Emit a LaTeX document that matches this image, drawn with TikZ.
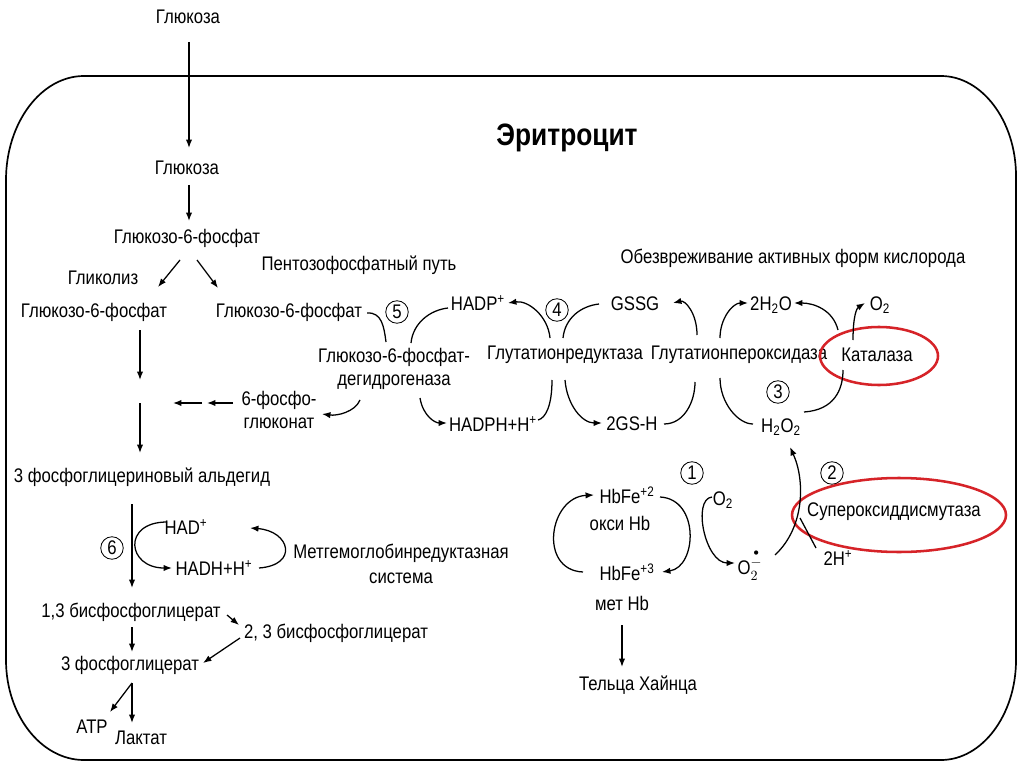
\documentclass[tikz,border=0pt]{standalone}
\usepackage{amsmath}
\usepackage{fontspec}
\setmainfont{Liberation Sans}[FakeStretch=0.85]
\usetikzlibrary{arrows.meta}
\definecolor{ringred}{RGB}{214,35,40}

\begin{document}
\begin{tikzpicture}[x=0.025cm, y=-0.025cm, >={Latex[length=6pt,width=4.5pt]},
	every node/.style={font=\fontsize{14}{16}\selectfont, inner sep=1pt},
	num/.style={draw, circle, inner sep=0pt, minimum size=16pt, semithick},
	two/.style={align=center},
	link/.style={line width=0.9pt},
	ring/.style={draw=ringred, line width=1.8pt}]

	\useasboundingbox (0,0) rectangle (1024,767);
	\fill[white] (0,0) rectangle (1024,767);

	\draw[line width=1.2pt] (84,76) -- (941,76)
		.. controls +(41,0) and +(0,-55) .. (1016,176) -- (1016,660)
		.. controls +(0,55) and +(41,0) .. (941,760) -- (84,760)
		.. controls +(-43,0) and +(0,55) .. (6,660) -- (6,180)
		.. controls +(0,-57) and +(-43,0) .. (84,76) -- cycle;

	\node (title) at (567,138) {\bfseries\fontsize{22}{26}\selectfont Эритроцит};

	\node (glcout) at (188,17) {Глюкоза};
	\node (glcin) at (187,168) {Глюкоза};
	\node (g6p) at (187,238) {Глюкозо-6-фосфат};
	\node (glyc) at (103,278) {Гликолиз};
	\node (ppp) at (359,265) {Пентозофосфатный путь};
	\node (g6pl) at (94,312) {Глюкозо-6-фосфат};
	\node (g6pr) at (289,312) {Глюкозо-6-фосфат};
	\node[two] (g6pd) at (394,369) {Глюкозо-6-фосфат-\\дегидрогеназа};
	\node[two] (pglu) at (279,410) {6-фосфо-\\глюконат};
	\node (gap) at (142,477) {3 фосфоглицериновый альдегид};

	\node (hadp) at (478,303) {HADP\textsuperscript{+}};
	\node (gssg) at (635,304) {GSSG};
	\node (gr) at (565,355) {Глутатионредуктаза};
	\node (gpx) at (739,355) {Глутатионпероксидаза};
	\node (hadph) at (493,424) {HADPH+H\textsuperscript{+}};
	\node (gsh) at (632,424) {2GS-H};

	\node (det) at (793,258) {Обезвреживание активных форм кислорода};
	\node (h2o) at (771,305) {2H\textsubscript{2}O};
	\node (o2a) at (880,305) {O\textsubscript{2}};
	\node (cat) at (877,355) {Каталаза};
	\node (h2o2) at (781,427) {H\textsubscript{2}O\textsubscript{2}};
	\node (sod) at (894,512) {Супероксиддисмутаза};
	\node (h2p) at (838,558) {2H\textsuperscript{+}};

	\node (hb2) at (627,495) {HbFe\textsuperscript{+2}};
	\node (oxyhb) at (620,523) {окси Hb};
	\node (hb3) at (627,572) {HbFe\textsuperscript{+3}};
	\node (methb) at (622,603) {мет Hb};
	\node (heinz) at (638,685) {Тельца Хайнца};
	\node (o2b) at (723,500) {O\textsubscript{2}};
	\node (sup) at (750,565) {O$_2^{\stackrel{\bullet}{-}}$};

	\node (nad) at (186,527) {HAD\textsuperscript{+}};
	\node (nadh) at (214,568) {HADH+H\textsuperscript{+}};
	\node[two] (metsys) at (401,564) {Метгемоглобинредуктазная\\[2pt]система};
	\node (bpg13) at (131,612) {1,3 бисфосфоглицерат};
	\node (bpg23) at (336,633) {2, 3 бисфосфоглицерат};
	\node (pg3) at (130,665) {3 фосфоглицерат};
	\node (atp) at (92,727) {ATP};
	\node (lact) at (141,738) {Лактат};

	\foreach \n/\x/\y in {1/692/473, 2/832/473, 3/778/392, 4/557/310, 5/397/312, 6/112/548}
		\node[num] (c\n) at (\x,\y) {\n};

	\draw[ring] (879,356) ellipse [x radius=59, y radius=29];
	\draw[ring] (899,515) ellipse [x radius=107, y radius=37];

	\draw[link,->] ([shift={(1,25)}]glcout.center) -- ([shift={(2,-20)}]glcin.center);
	\draw[link,->] ([shift={(2,17)}]glcin.center) -- ([shift={(2,-17)}]g6p.center);
	\draw[link,->] ([shift={(-7,22)}]g6p.center) -- ([shift={(64,-25)}]g6pl.center);
	\draw[link,->] ([shift={(10,22)}]g6p.center) -- ([shift={(-71,-24)}]g6pr.center);
	\draw[link,->] ([shift={(46,18)}]g6pl.center) -- ++(0,50);
	\draw[link,->] ([shift={(-2,-74)}]gap.center) -- ([shift={(-2,-24)}]gap.center);
	\draw[link,->] ([shift={(-46,-7)}]pglu.center) -- ([shift={(-72,-7)}]pglu.center);
	\draw[link,->] ([shift={(-77,-7)}]pglu.center) -- ([shift={(-106,-7)}]pglu.center);

	\draw[link] ([shift={(78,1)}]g6pr.center) .. controls +(15,-1) and +(-2,-15) .. ([shift={(-8,-27)}]g6pd.center);
	\draw[link] ([shift={(17,-26)}]g6pd.center) .. controls +(2,-20) and +(-18,2) .. ([shift={(-30,5)}]hadp.center);
	\draw[link,->] ([shift={(-34,31)}]g6pd.center) .. controls +(-5,12) and +(15,2) .. ([shift={(43,4)}]pglu.center);
	\draw[link,->] ([shift={(26,29)}]g6pd.center) .. controls +(3,18) and +(-12,0) .. ([shift={(-46,-1)}]hadph.center);

	\draw[link,->] ([shift={(-15,-17)}]gr.center) .. controls +(-2,-22) and +(20,-3) .. ([shift={(30,0)}]hadp.center);
	\draw[link] ([shift={(-2,-17)}]gr.center) .. controls +(2,-20) and +(-18,2) .. ([shift={(-36,0)}]gssg.center);
	\draw[link,->] ([shift={(-42,-20)}]gpx.center) .. controls +(0,-22) and +(12,-3) .. ([shift={(38,-1)}]gssg.center);
	\draw[link] ([shift={(-13,25)}]gr.center) .. controls +(0,25) and +(8,-2) .. ([shift={(45,-4)}]hadph.center);
	\draw[link,->] ([shift={(0,25)}]gr.center) .. controls +(2,25) and +(-20,0) .. ([shift={(-30,-1)}]gsh.center);
	\draw[link] ([shift={(32,0)}]gsh.center) .. controls +(20,0) and +(0,20) .. ([shift={(-44,27)}]gpx.center);

	\draw[link,->] ([shift={(-19,-17)}]gpx.center) .. controls +(0,-20) and +(-15,0) .. ([shift={(-23,-2)}]h2o.center);
	\draw[link] ([shift={(-19,23)}]gpx.center) .. controls +(0,25) and +(-15,0) .. ([shift={(-28,-3)}]h2o2.center);
	\draw[link,->] ([shift={(-39,-25)}]cat.center) .. controls +(-5,-20) and +(20,0) .. ([shift={(23,-2)}]h2o.center);
	\draw[link,->] ([shift={(-24,-15)}]cat.center) .. controls +(0,-25) and +(-8,5) .. ([shift={(-15,-2)}]o2a.center);
	\draw[link] ([shift={(23,-15)}]h2o2.center) .. controls +(30,-2) and +(0,20) .. ([shift={(-34,15)}]cat.center);
	\draw[link,->] ([shift={(25,-10)}]sup.center) .. controls +(30,-28) and +(15,33) .. ([shift={(9,20)}]h2o2.center);
	\draw[link] ([shift={(-22,-10)}]h2p.center) -- ++(-16,-30);

	\draw[link,->] ([shift={(-44,0)}]hb3.center) .. controls +(-45,-2) and +(-45,2) .. ([shift={(-33,0)}]hb2.center);
	\draw[link,->] ([shift={(33,2)}]hb2.center) .. controls +(40,2) and +(35,-5) .. ([shift={(35,0)}]hb3.center);
	\draw[link,->] ([shift={(-11,-3)}]o2b.center) .. controls +(-20,2) and +(-30,0) .. ([shift={(-15,-2)}]sup.center);
	\draw[link,->] ([shift={(0,22)}]methb.center) -- ([shift={(-16,-18)}]heinz.center);

	\draw[link,->] ([shift={(-10,27)}]gap.center) -- ([shift={(1,-24)}]bpg13.center);
	\draw[link,->] ([shift={(-19,-5)}]nad.center) .. controls +(-45,0) and +(-45,0) .. ([shift={(-42,0)}]nadh.center);
	\draw[link,->] ([shift={(45,0)}]nadh.center) .. controls +(40,-3) and +(40,3) .. ([shift={(64,1)}]nad.center);
	\draw[link,->] ([shift={(96,3)}]bpg13.center) -- ([shift={(-97,-8)}]bpg23.center);
	\draw[link,->] ([shift={(1,15)}]bpg13.center) -- ([shift={(2,-13)}]pg3.center);
	\draw[link,->] ([shift={(-96,5)}]bpg23.center) -- ([shift={(73,-2)}]pg3.center);
	\draw[link,->] ([shift={(2,18)}]pg3.center) -- ([shift={(-9,-15)}]lact.center);
	\draw[link,->] ([shift={(2,18)}]pg3.center) -- ([shift={(18,-15)}]atp.center);
\end{tikzpicture}
\end{document}
